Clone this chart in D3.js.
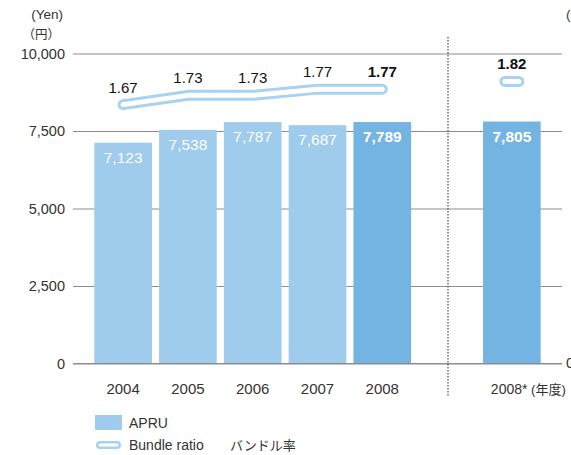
<!DOCTYPE html>
<html>
  <head>
    <meta charset="utf-8">
    <title>APRU and bundle ratio</title>
    <script type="text/javascript" src="https://cdn.jsdelivr.net/npm/d3@7"></script>
    <style>
      body { margin: 0; background: #fff; }
      text { font-family: "Liberation Sans", "Noto Sans CJK JP", sans-serif; }
    </style>
  </head>
  <body>
    <script type="text/javascript">
     // data
     let years = ["2004", "2005", "2006", "2007", "2008", "", "2008*"];
     let apru = [7123, 7538, 7787, 7687, 7789, null, 7805];
     let ratio = [1.67, 1.73, 1.73, 1.77, 1.77, null, 1.82];
     let yTicks = [0, 2500, 5000, 7500, 10000];
     let highlighted = ["2008", "2008*"];

     let w = 571, h = 455;
     let svg = d3.select("body").append("svg")
		 .attr("width", w)
		 .attr("height", h)
		 .style("display", "block");

     let xScale = d3.scaleBand()
		    .domain(years)
		    .range([93, 542])
		    .paddingInner(0.11)
		    .paddingOuter(0.02);
     let yScale = d3.scaleLinear()
		    .domain([0, 10000])
		    .range([363.5, 53.5]);
     // ratio sits between the 7,500 and 10,000 grid lines
     let rScale = d3.scaleLinear()
		    .domain([1.5, 2.0])
		    .range([yScale(7500), yScale(10000)]);

     let cx = (d) => xScale(d) + xScale.bandwidth() / 2;

     // grid lines, drawn first so the bars cover them
     let yAxis = d3.axisLeft(yScale)
		   .tickValues(yTicks)
		   .tickSize(-(562 - 73))
		   .tickPadding(8)
		   .tickFormat(d3.format(","));
     let gy = svg.append("g")
		 .attr("transform", "translate(73, 0)")
		 .call(yAxis);
     gy.select(".domain").remove();
     gy.selectAll(".tick line").attr("stroke", "#8c8c8c").attr("stroke-width", 1);
     gy.selectAll(".tick text")
       .attr("fill", "#333")
       .style("font-size", "14.5px");

     svg.append("text").attr("x", 63).attr("y", 19).attr("text-anchor", "end")
	.attr("fill", "#333").style("font-size", "13.5px").text("(Yen)");
     svg.append("text").attr("x", 60).attr("y", 39).attr("text-anchor", "end")
	.attr("fill", "#333").style("font-size", "12.5px").text("（円）");
     // right axis, mostly outside the picture
     svg.append("text").attr("x", 566).attr("y", 19)
	.attr("fill", "#333").style("font-size", "13.5px").text("(倍)");
     svg.append("text").attr("x", 566).attr("y", 368)
	.attr("fill", "#333").style("font-size", "14.5px").text("0");

     // separator
     svg.append("line")
	.attr("x1", 448).attr("x2", 448)
	.attr("y1", 37).attr("y2", 396)
	.attr("stroke", "#555")
	.attr("stroke-width", 1.3)
	.attr("stroke-dasharray", "1.5,1.5");

     let barData = years.map((y, i) => ({year: y, v: apru[i], r: ratio[i]}))
			.filter((d) => d.v != null);

     svg.selectAll("rect.bar")
	.data(barData)
	.enter()
	.append("rect")
	.attr("class", "bar")
	.attr("x", (d) => xScale(d.year))
	.attr("y", (d) => yScale(d.v))
	.attr("width", xScale.bandwidth())
	.attr("height", (d) => yScale(0) - yScale(d.v))
	.attr("fill", (d) => highlighted.includes(d.year) ? "#74b4e3" : "#9fcbec");

     svg.selectAll("text.val")
	.data(barData)
	.enter()
	.append("text")
	.attr("class", "val")
	.attr("x", (d) => cx(d.year))
	.attr("y", (d) => yScale(d.v) + 20)
	.attr("text-anchor", "middle")
	.attr("fill", "#fff")
	.attr("font-weight", (d) => highlighted.includes(d.year) ? "bold" : "normal")
	.style("font-size", "15.5px")
	.text((d) => d3.format(",")(d.v));

     // zero line
     svg.append("line")
	.attr("x1", 73).attr("x2", 562)
	.attr("y1", yScale(0)).attr("y2", yScale(0))
	.attr("stroke", "#8c8c8c");

     // year labels
     svg.selectAll("text.year")
	.data(barData.filter((d) => d.year != "2008*"))
	.enter()
	.append("text")
	.attr("class", "year")
	.attr("x", (d) => cx(d.year))
	.attr("y", 394)
	.attr("text-anchor", "middle")
	.attr("fill", "#333")
	.style("font-size", "15px")
	.text((d) => d.year);

     // forecast label with the fiscal-year note
     let fy = svg.append("text")
		 .attr("x", cx("2008*") - 21)
		 .attr("y", 394)
		 .attr("fill", "#333")
		 .style("font-size", "14px");
     fy.append("tspan").text("2008*");
     fy.append("tspan").style("font-size", "13px").text(" (年度)");

     // bundle ratio: thick blue stroke with white core
     let lineData = barData.filter((d) => d.year != "2008*");
     let line = d3.line()
		  .x((d) => cx(d.year))
		  .y((d) => rScale(d.r));
     let fc = barData.filter((d) => d.year == "2008*");
     let pill = (d) => "M" + (cx(d.year) - 7) + "," + rScale(d.r) + "H" + (cx(d.year) + 7);

     [["#a9d1f0", 11], ["#fff", 5]].forEach((s) => {
       svg.append("path")
	  .datum(lineData)
	  .attr("d", line)
	  .attr("fill", "none")
	  .attr("stroke", s[0])
	  .attr("stroke-width", s[1])
	  .attr("stroke-linecap", "round")
	  .attr("stroke-linejoin", "round");
       svg.selectAll(null)
	  .data(fc)
	  .enter()
	  .append("path")
	  .attr("d", pill)
	  .attr("fill", "none")
	  .attr("stroke", s[0])
	  .attr("stroke-width", s[1])
	  .attr("stroke-linecap", "round");
     });

     svg.selectAll("text.ratio")
	.data(barData)
	.enter()
	.append("text")
	.attr("class", "ratio")
	.attr("x", (d) => cx(d.year))
	.attr("y", (d) => rScale(d.r) - 12)
	.attr("text-anchor", "middle")
	.attr("fill", "#111")
	.attr("font-weight", (d) => highlighted.includes(d.year) ? "bold" : "normal")
	.style("font-size", "15px")
	.text((d) => d3.format(".2f")(d.r));

     // legend
     let lg = svg.append("g");
     lg.append("rect").attr("x", 95).attr("y", 415).attr("width", 27).attr("height", 15)
       .attr("fill", "#9fcbec");
     lg.append("text").attr("x", 129).attr("y", 428).attr("fill", "#333")
       .style("font-size", "14px").text("APRU");
     lg.append("path").attr("d", "M100,445H117").attr("stroke", "#a9d1f0")
       .attr("stroke-width", 8).attr("stroke-linecap", "round");
     lg.append("path").attr("d", "M100,445H117").attr("stroke", "#fff")
       .attr("stroke-width", 3).attr("stroke-linecap", "round");
     lg.append("text").attr("x", 129).attr("y", 450).attr("fill", "#333")
       .style("font-size", "14px").text("Bundle ratio");
     lg.append("text").attr("x", 230).attr("y", 450).attr("fill", "#333")
       .style("font-size", "13px").text("バンドル率");
    </script>
  </body>
</html>
